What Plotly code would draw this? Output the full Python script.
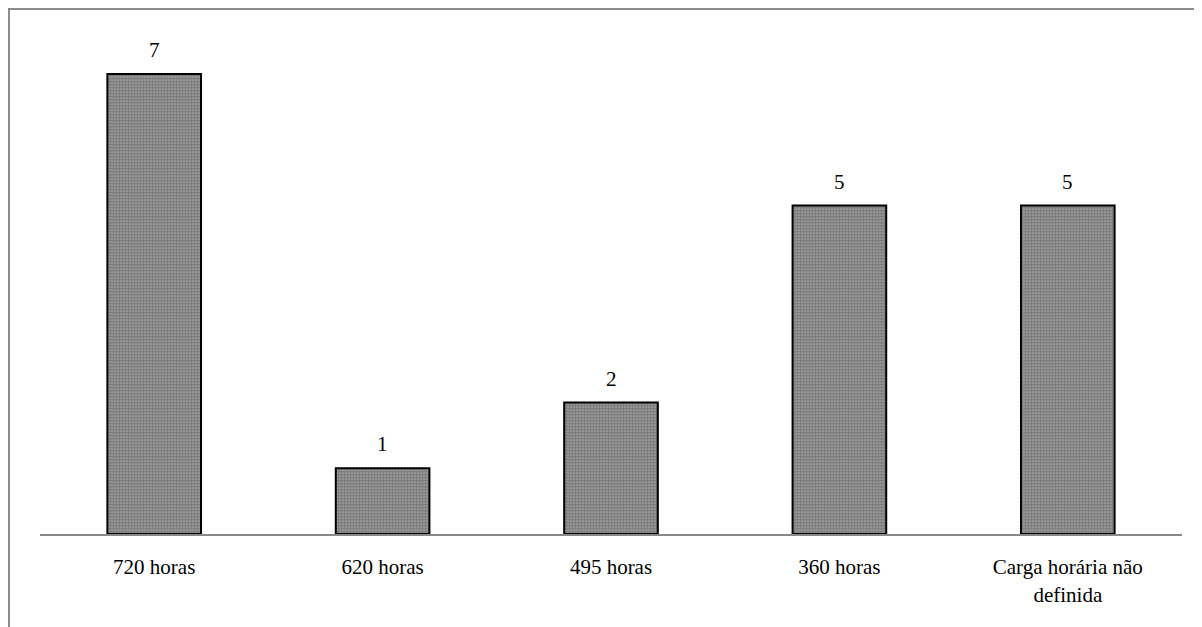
import plotly.graph_objects as go

categories = ["720 horas", "620 horas", "495 horas", "360 horas", "Carga horária não<br>definida"]
values = [7, 1, 2, 5, 5]

# page has an 8px body margin, so the figure starts at (8, 8)
W, H = 1194, 619
ml, mr, mt, mb = 32, 20, 12, 93
pw = W - ml - mr
ph = H - mt - mb
px_per_unit = 65.7

fig = go.Figure(go.Bar(
    x=categories, y=values,
    width=0.41,
    marker=dict(
        color="white",
        line=dict(color="black", width=2),
        pattern=dict(shape=".", fgcolor="black", bgcolor="white", size=3, solidity=0.85),
    ),
    hoverinfo="skip",
))

annotations = [
    dict(x=c, y=v, text=str(v), showarrow=False, xref="x", yref="y",
         yanchor="bottom", yshift=10,
         font=dict(family="Liberation Serif", size=21, color="black"))
    for c, v in zip(categories, values)
]

fig.update_layout(
    width=W, height=H,
    margin=dict(l=ml, r=mr, t=mt, b=mb),
    plot_bgcolor="white", paper_bgcolor="white",
    showlegend=False,
    font=dict(family="Liberation Serif", size=21, color="black"),
    xaxis=dict(showline=True, linecolor="#898989", linewidth=2, ticks="",
               showgrid=False, zeroline=False, ticklabelstandoff=13),
    yaxis=dict(range=[0, (H - mb - mt) / px_per_unit], visible=False, showgrid=False),
    annotations=annotations,
    shapes=[
        dict(type="line", xref="paper", yref="paper",
             x0=(1 - ml) / pw, x1=(1 - ml) / pw, y0=1 + (mt - 1) / ph, y1=-(mb + 5) / ph,
             line=dict(color="#8c8c8c", width=2)),
        dict(type="line", xref="paper", yref="paper",
             x0=(0 - ml) / pw, x1=(W + 5 - ml) / pw, y0=1 + (mt - 1) / ph, y1=1 + (mt - 1) / ph,
             line=dict(color="#8c8c8c", width=2)),
    ],
)

fig.write_html("out.html")
